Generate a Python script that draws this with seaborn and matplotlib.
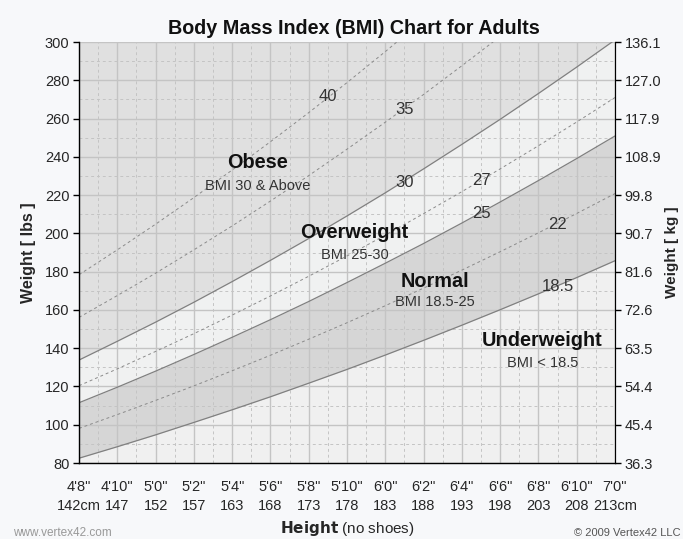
import matplotlib
matplotlib.use("Agg")
import matplotlib.pyplot as plt
from matplotlib.ticker import MultipleLocator
import seaborn as sns
import pandas as pd

# ---- data ----
heights_in = [56, 58, 60, 62, 64, 66, 68, 70, 72, 74, 76, 78, 80, 82, 84]
height_ft = ["4'8\"", "4'10\"", "5'0\"", "5'2\"", "5'4\"", "5'6\"", "5'8\"", "5'10\"",
             "6'0\"", "6'2\"", "6'4\"", "6'6\"", "6'8\"", "6'10\"", "7'0\""]
height_cm = ["142cm", "147", "152", "157", "163", "168", "173", "178", "183",
             "188", "193", "198", "203", "208", "213cm"]

w_bmi_18_5 = [82.5, 88.5, 94.7, 101.2, 107.8, 114.6, 121.7, 128.9, 136.4, 144.1, 152.0, 160.1, 168.4, 176.9, 185.7]
w_bmi_22 = [98.1, 105.3, 112.7, 120.3, 128.2, 136.3, 144.7, 153.3, 162.2, 171.4, 180.8, 190.4, 200.3, 210.4, 220.8]
w_bmi_25 = [111.5, 119.6, 128.0, 136.7, 145.7, 154.9, 164.4, 174.3, 184.4, 194.7, 205.4, 216.4, 227.6, 239.1, 250.9]
w_bmi_27 = [120.4, 129.2, 138.3, 147.6, 157.3, 167.3, 177.6, 188.2, 199.1, 210.3, 221.8, 233.7, 245.8, 258.2, 271.0]
w_bmi_30 = [133.8, 143.6, 153.6, 164.0, 174.8, 185.9, 197.3, 209.1, 221.2, 233.7, 246.5, 259.6, 273.1, 286.9, 301.1]
w_bmi_35 = [156.1, 167.5, 179.2, 191.4, 203.9, 216.9, 230.2, 244.0, 258.1, 272.6, 287.6, 302.9, 318.6, 334.8, 351.3]
w_bmi_40 = [178.4, 191.4, 204.8, 218.7, 233.1, 247.9, 263.1, 278.8, 295.0, 311.6, 328.6, 346.2, 364.2, 382.6, 401.5]

lbs_ticks = [80, 100, 120, 140, 160, 180, 200, 220, 240, 260, 280, 300]
kg_labels = ["36.3", "45.4", "54.4", "63.5", "72.6", "81.6", "90.7", "99.8",
             "108.9", "117.9", "127.0", "136.1"]

bmi_lines = {"18.5": w_bmi_18_5, "22": w_bmi_22, "25": w_bmi_25, "27": w_bmi_27,
             "30": w_bmi_30, "35": w_bmi_35, "40": w_bmi_40}
solid_bmis = ["18.5", "25", "30"]

# ---- style ----
sns.set_style("white")
plt.rcParams['font.family'] = ['Liberation Sans', 'DejaVu Sans']

fig = plt.figure(figsize=(6.83, 5.39), dpi=100, facecolor="#f7f8fa")
ax = fig.add_axes([0.1157, 0.141, 0.7847, 0.781])
ax.set_facecolor("#f0f0f0")

ymin, ymax = 80, 300
xmin, xmax = 56, 84

# region fills
ax.fill_between(heights_in, w_bmi_30, [ymax + 200] * len(heights_in), color="#e0e0e0", zorder=0.2, lw=0)
ax.fill_between(heights_in, w_bmi_25, w_bmi_30, color="#f0f1f1", zorder=0.2, lw=0)
ax.fill_between(heights_in, w_bmi_18_5, w_bmi_25, color="#d6d6d6", zorder=0.2, lw=0)
ax.fill_between(heights_in, [ymin - 50] * len(heights_in), w_bmi_18_5, color="#f0f0f0", zorder=0.2, lw=0)

# BMI lines
rows = []
for k, v in bmi_lines.items():
    for h, w in zip(heights_in, v):
        rows.append({"height": h, "weight": w, "bmi": k})
df = pd.DataFrame(rows)
for k in bmi_lines:
    sub = df[df["bmi"] == k]
    if k in solid_bmis:
        sns.lineplot(data=sub, x="height", y="weight", ax=ax, color="#808080", lw=0.9, zorder=2)
    else:
        sns.lineplot(data=sub, x="height", y="weight", ax=ax, color="#8a8a8a", lw=0.7,
                     dashes=False, zorder=2, linestyle=(0, (3, 3)))

ax.set_xlim(xmin, xmax)
ax.set_ylim(ymin, ymax)

# grid
ax.set_axisbelow(True)
ax.xaxis.set_minor_locator(MultipleLocator(1))
ax.yaxis.set_minor_locator(MultipleLocator(10))
ax.grid(which="major", color="#c4c4c4", lw=1.0, ls="-", zorder=0.5)
ax.grid(which="minor", color="#c4c4c4", lw=0.7, ls=(0, (3, 3)), zorder=0.5)
for gl in ax.get_xgridlines() + ax.get_ygridlines():
    gl.set_zorder(0.5)

ax.set_xticks(heights_in)
ax.set_xticklabels([f"{a}\n{b}" for a, b in zip(height_ft, height_cm)], fontsize=10.5, linespacing=1.5)
ax.set_yticks(lbs_ticks)
ax.set_yticklabels([str(t) for t in lbs_ticks], fontsize=10.5)
ax.tick_params(which="major", direction="out", length=4, width=1, color="black", pad=3)
ax.tick_params(which="minor", length=0)
ax.tick_params(axis="x", pad=8)

for s in ["left", "bottom"]:
    ax.spines[s].set_color("black")
    ax.spines[s].set_linewidth(1)
ax.spines["top"].set_visible(False)
ax.spines["right"].set_color("black")

ax.set_xlabel("")
ax.set_ylabel("Weight [ lbs ]", fontsize=11.5, fontweight="bold", labelpad=6)

ax2 = ax.twinx()
ax2.set_ylim(ymin, ymax)
ax2.set_yticks(lbs_ticks)
ax2.set_yticklabels(kg_labels, fontsize=10.5)
ax2.tick_params(direction="out", length=4, width=1, color="black", pad=3)
ax2.spines["top"].set_visible(False)
ax2.spines["right"].set_color("black")
ax2.spines["left"].set_visible(False)
ax2.spines["bottom"].set_visible(False)
ax2.set_ylabel("Weight [ kg ]", fontsize=11, fontweight="bold", labelpad=3)
ax2.grid(False)

# BMI value labels
for txt, x, y in [("40", 69, 271.3), ("35", 73, 264.5), ("30", 73, 226.8), ("27", 77, 227.4),
                  ("25", 77, 210.6), ("22", 81, 204.9), ("18.5", 81, 172.5)]:
    ax.text(x, y, txt, fontsize=12, ha="center", va="center", color="#333333", zorder=3)

# category labels
for title, subt, x, y1, y2 in [("Obese", "BMI 30 & Above", 65.35, 236.8, 224.8),
                               ("Overweight", "BMI 25-30", 70.4, 200.7, 188.7),
                               ("Normal", "BMI 18.5-25", 74.6, 175.1, 164.1),
                               ("Underweight", "BMI < 18.5", 80.2, 143.8, 132.3)]:
    ax.text(x, y1, title, fontsize=14.3, fontweight="bold", ha="center", va="center", color="#111111", zorder=3)
    ax.text(x, y2, subt, fontsize=10.5, ha="center", va="center", color="#333333", zorder=3)

fig.text(0.518, 0.948, "Body Mass Index (BMI) Chart for Adults", fontsize=14.2, fontweight="bold",
         ha="center", va="center", color="#111111")
fig.text(0.508, 0.0204, r"$\bf{Height}$ (no shoes)", fontsize=11, ha="center", va="center")
fig.text(0.019, 0.011, "www.vertex42.com", fontsize=8.5, color="#999999", ha="left", va="center")
fig.text(0.997, 0.011, "© 2009 Vertex42 LLC", fontsize=8, color="#555555", ha="right", va="center")

fig.savefig("out.png", dpi=100, facecolor=fig.get_facecolor())
